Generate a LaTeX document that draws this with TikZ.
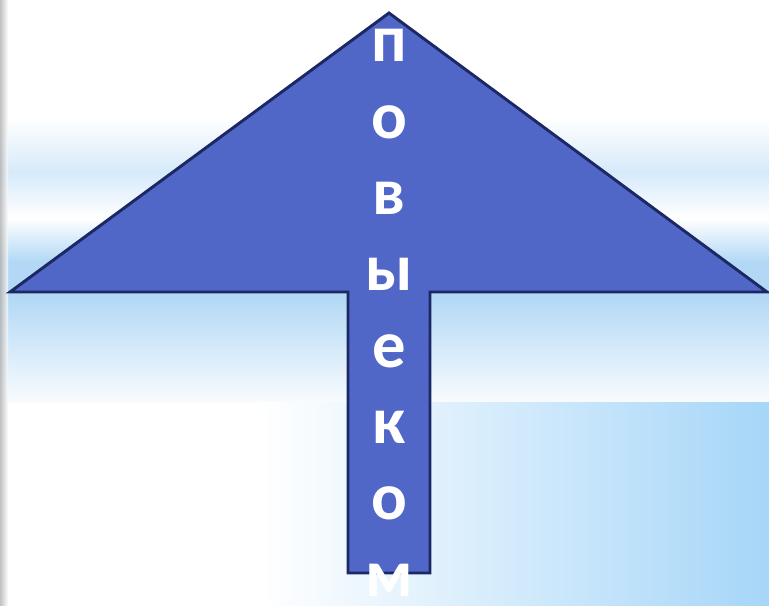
\documentclass[tikz,border=0pt]{standalone}
\usepackage{fontspec}
\setmainfont{Carlito}
\definecolor{arrowfill}{RGB}{80, 103, 200}
\definecolor{arrowline}{RGB}{28, 40, 100}
\definecolor{skyblue}{RGB}{178, 216, 245}
\definecolor{skypale}{RGB}{214, 234, 250}
\definecolor{floorblue}{RGB}{166, 214, 248}
\usepackage{tikz}

\begin{document}
\begin{tikzpicture}[
        x=0.75pt, y=-0.75pt,
        arrowbody/.style={fill=arrowfill, draw=arrowline, line width=2.2pt,
                          line join=miter},
        letter/.style={text=white, font=\fontsize{50}{50}\selectfont\bfseries,
                       anchor=base, inner sep=0pt}
      ]
      \useasboundingbox (0,0) rectangle (769,606);
      % background stripes
      \fill[white] (0,0) rectangle (769,606);
      \shade[top color=white, bottom color=skypale] (0,118) rectangle (769,172);
      \shade[top color=skypale, bottom color=white] (0,172) rectangle (769,218);
      \shade[top color=white, bottom color=skyblue] (0,218) rectangle (769,262);
      \fill[skyblue] (0,262) rectangle (769,296);
      \shade[top color=skyblue, bottom color=white!85!skypale] (0,296) rectangle (769,403);
      \shade[left color=white, right color=floorblue] (260,403) rectangle (769,606);
      \shade[left color=black!30, right color=white, opacity=0.8] (0,0) rectangle (8,606);
      % arrow
      \draw[arrowbody] (389,13) -- (767,292) -- (430,292) -- (430,573)
                       -- (348,573) -- (348,292) -- (10,292) -- cycle;
      \foreach \ch [count=\i from 0] in {п,о,в,ы,е,к,о,м}
        \node[letter] (l\i) at (389,{62+76.3*\i}) {\ch};
    \end{tikzpicture}
\end{document}
